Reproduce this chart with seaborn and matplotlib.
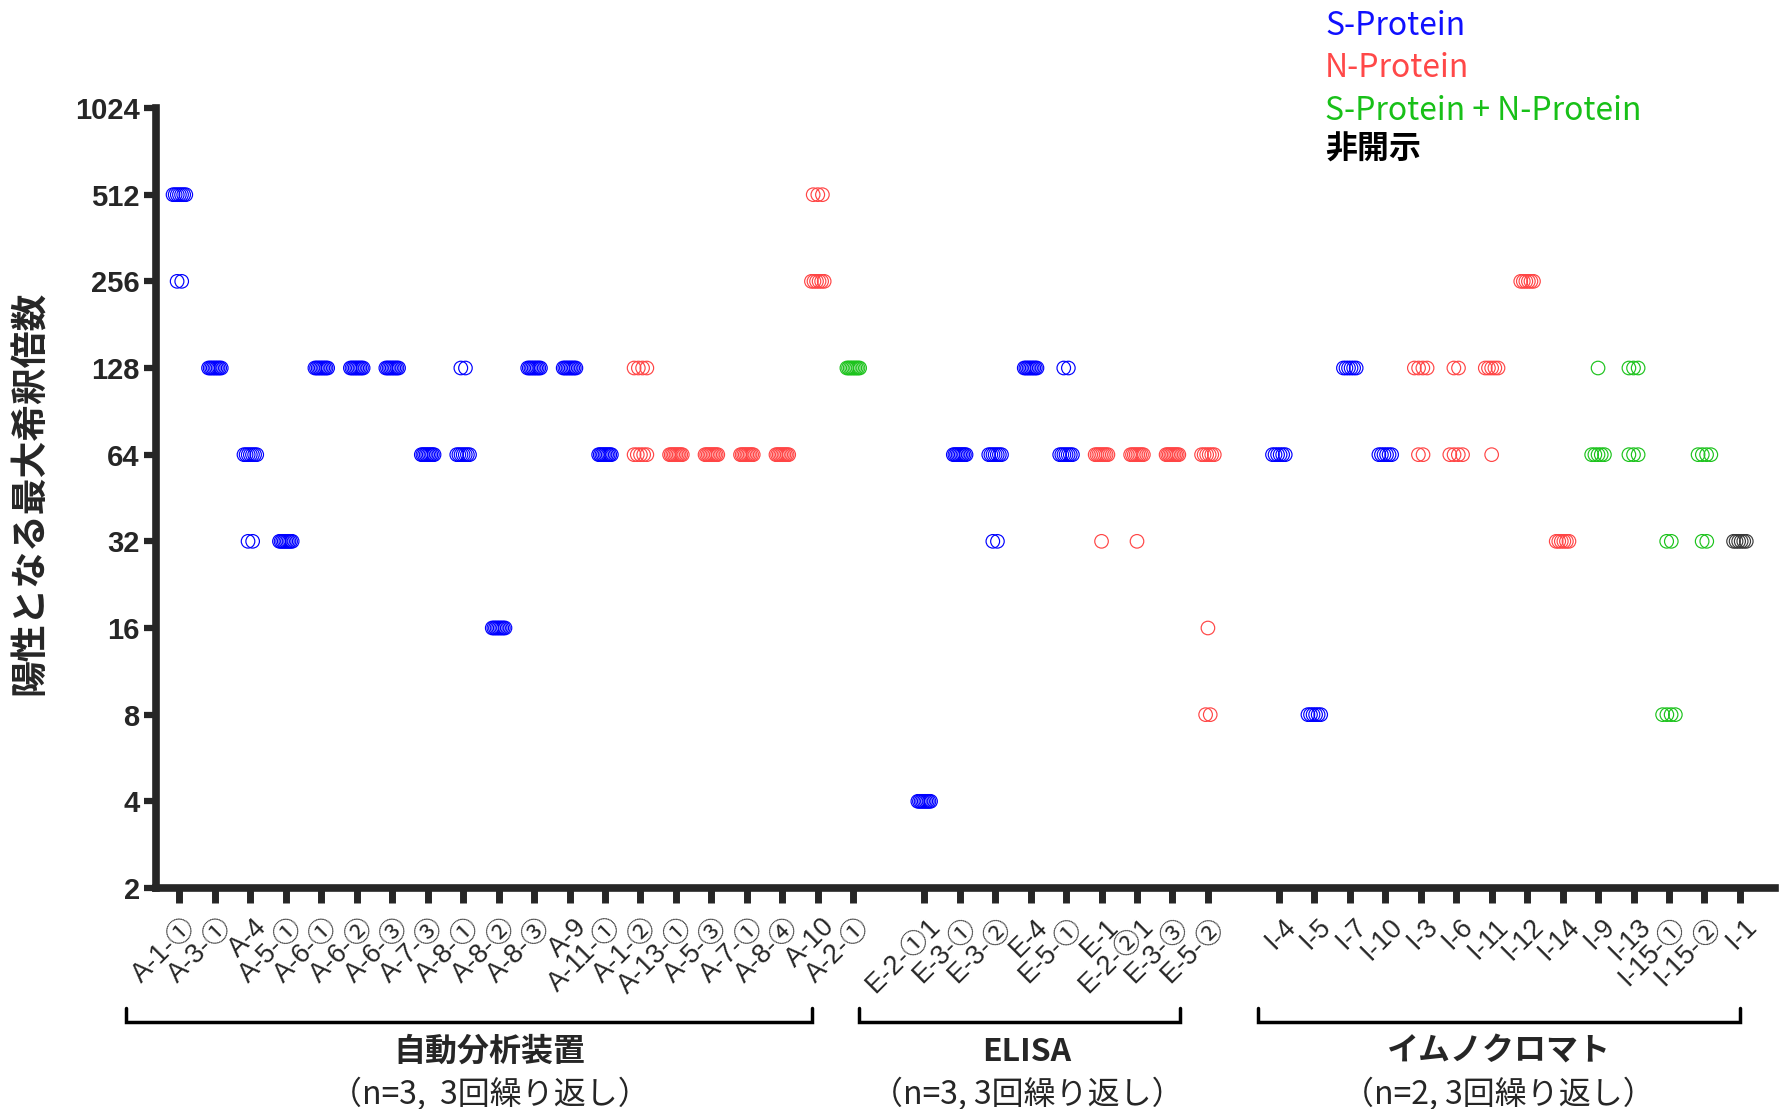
import numpy as np
import pandas as pd
import matplotlib
matplotlib.use('Agg')
import matplotlib.pyplot as plt
import matplotlib.transforms as mtransforms
import seaborn as sns

# ---- data ----
# each category: list of (titer, number of points at that titer)
a_labels = ['A-1-①', 'A-3-①', 'A-4', 'A-5-①', 'A-6-①', 'A-6-②', 'A-6-③', 'A-7-③', 'A-8-①', 'A-8-②',
            'A-8-③', 'A-9', 'A-11-①', 'A-1-②', 'A-13-①', 'A-5-③', 'A-7-①', 'A-8-④', 'A-10', 'A-2-①']
a_protein = ['S', 'S', 'S', 'S', 'S', 'S', 'S', 'S', 'S', 'S',
             'S', 'S', 'S', 'N', 'N', 'N', 'N', 'N', 'N', 'SN']
a_titers = [[(512, 7), (256, 2)], [(128, 9)], [(64, 7), (32, 2)], [(32, 9)], [(128, 9)],
            [(128, 9)], [(128, 9)], [(64, 9)], [(128, 2), (64, 7)], [(16, 9)],
            [(128, 9)], [(128, 9)], [(64, 9)], [(128, 4), (64, 5)], [(64, 9)],
            [(64, 9)], [(64, 9)], [(64, 9)], [(512, 3), (256, 6)], [(128, 9)]]

e_labels = ['E-2-①1', 'E-3-①', 'E-3-②', 'E-4', 'E-5-①', 'E-1', 'E-2-②1', 'E-3-③', 'E-5-②']
e_protein = ['S', 'S', 'S', 'S', 'S', 'N', 'N', 'N', 'N']
e_titers = [[(4, 9)], [(64, 9)], [(64, 7), (32, 2)], [(128, 9)], [(128, 2), (64, 7)],
            [(64, 8), (32, 1)], [(64, 8), (32, 1)], [(64, 9)], [(64, 6), (16, 1), (8, 2)]]

i_labels = ['I-4', 'I-5', 'I-7', 'I-10', 'I-3', 'I-6', 'I-11', 'I-12', 'I-14', 'I-9',
            'I-13', 'I-15-①', 'I-15-②', 'I-1']
i_protein = ['S', 'S', 'S', 'S', 'N', 'N', 'N', 'N', 'N', 'SN', 'SN', 'SN', 'SN', 'ND']
i_titers = [[(64, 6)], [(8, 6)], [(128, 6)], [(64, 6)], [(128, 4), (64, 2)],
            [(128, 2), (64, 4)], [(128, 5), (64, 1)], [(256, 6)], [(32, 6)], [(128, 1), (64, 5)],
            [(128, 3), (64, 3)], [(32, 2), (8, 4)], [(64, 4), (32, 2)], [(32, 6)]]

group_names = ['自動分析装置', 'ELISA', 'イムノクロマト']
group_notes = ['（n=3,  3回繰り返し）', '（n=3, 3回繰り返し）', '（n=2, 3回繰り返し）']

legend_labels = ['S-Protein', 'N-Protein', 'S-Protein + N-Protein', '非開示']
protein_keys = ['S', 'N', 'SN', 'ND']
palette = {'S': '#0000FF', 'N': '#FF4545', 'SN': '#1CC31C', 'ND': '#3A3A3A'}
legend_colors = ['#1010FF', '#FF4848', '#18C018', '#000000']

yticks = [2, 4, 8, 16, 32, 64, 128, 256, 512, 1024]

# ---- build long table ----
rows = []
tick_pos, tick_lab = [], []
slot = 0
for labels, prots, titers in [(a_labels, a_protein, a_titers),
                              (e_labels, e_protein, e_titers),
                              (i_labels, i_protein, i_titers)]:
    for lab, p, tl in zip(labels, prots, titers):
        for val, k in tl:
            span = min(0.13 * (k - 1), 0.36)
            for o in np.linspace(-span / 2, span / 2, k):
                rows.append({'x': slot + o, 'titer': val, 'protein': p})
        tick_pos.append(slot)
        tick_lab.append(lab)
        slot += 1
    slot += 1  # empty slot between groups
df = pd.DataFrame(rows)

# ---- plot ----
sns.set_style('ticks')
plt.rcParams['font.family'] = ['Liberation Sans', 'Noto Sans CJK JP']
cjk = ['Noto Sans CJK JP', 'DejaVu Sans']

fig = plt.figure(figsize=(17.87, 11.09), dpi=100)
ax = fig.add_axes([0.0875, 0.1993, 0.906, 0.7033])

sns.scatterplot(data=df, x='x', y='titer', hue='protein', palette=palette,
                s=95, linewidth=0.85, legend=False, ax=ax, zorder=3)
for coll in ax.collections:
    fc = coll.get_facecolors()
    coll.set_edgecolors(fc)
    coll.set_facecolors('none')

ax.set_yscale('log', base=2)
ax.set_ylim(2, 1024)
ax.set_yticks(yticks)
ax.set_yticklabels([str(v) for v in yticks], fontsize=21, fontweight='bold')
ax.yaxis.set_minor_locator(matplotlib.ticker.NullLocator())
ax.set_xlim(-0.65, 45.0)
ax.set_xticks(tick_pos)
ax.set_xticklabels(tick_lab, rotation=45, ha='right', va='center',
                   rotation_mode='anchor', fontsize=19.5)
ax.set_xlabel('')
ax.set_ylabel('')

for side in ['top', 'right']:
    ax.spines[side].set_visible(False)
for side in ['left', 'bottom']:
    ax.spines[side].set_linewidth(5.5)
ax.tick_params(axis='x', direction='out', length=11, width=5, pad=14)
ax.tick_params(axis='y', direction='out', length=9, width=4.5, pad=3)

# labels end a little right of their tick, as in the original
shift = mtransforms.ScaledTranslation(0.13, 0, fig.dpi_scale_trans)
for lbl in ax.get_xticklabels():
    lbl.set_transform(lbl.get_transform() + shift)

fig.text(0.0168, 0.556, '陽性となる最大希釈倍数', rotation=90, ha='center', va='center',
         fontsize=26.5, fontweight='bold', family=cjk)

# group brackets under the axis
trans = mtransforms.blended_transform_factory(ax.transData, ax.transAxes)
bracket_left = [-1.5, 19.15, 30.4]
bracket_right = [17.85, 28.2, 44.0]
label_center = [8.75, 23.9, 37.2]
for l, r, c, name, note in zip(bracket_left, bracket_right, label_center, group_names, group_notes):
    ax.plot([l, l, r, r], [-0.154, -0.172, -0.172, -0.154], color='black', lw=2.5,
            transform=trans, clip_on=False, solid_joinstyle='miter')
    ax.text(c, -0.210, name, transform=trans, ha='center', va='center',
            fontsize=23, fontweight='bold', family=cjk)
    ax.text(c, -0.265, note, transform=trans, ha='center', va='center',
            fontsize=23, family=cjk)

# text legend at top right
for yy, lab, col, key in zip([0.977, 0.939, 0.900, 0.865], legend_labels, legend_colors, protein_keys):
    fig.text(0.7415, yy, lab, color=col, ha='left', va='center', fontsize=23,
             fontweight='bold' if key == 'ND' else 'normal', family=cjk)

fig.savefig('out.png', dpi=100)
